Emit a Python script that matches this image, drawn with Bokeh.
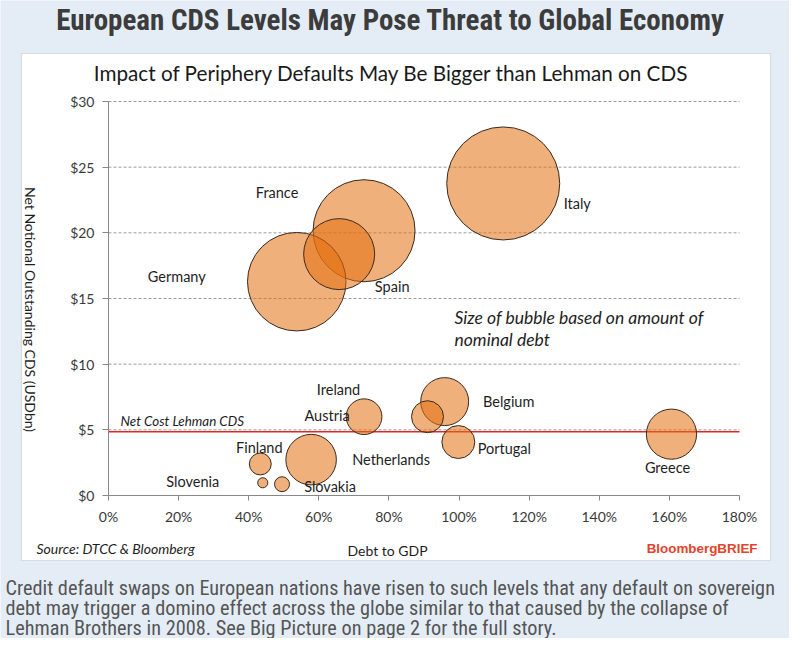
import math
import subprocess
from bokeh.plotting import figure
from bokeh.models import ColumnDataSource, Range1d, FixedTicker, Label, BoxAnnotation
from bokeh.core.properties import value
from bokeh.embed import file_html
from bokeh.resources import INLINE

# ---------------- data ----------------
countries = ["Italy", "France", "Germany", "Spain", "Netherlands", "Greece", "Belgium",
             "Austria", "Portugal", "Ireland", "Finland", "Slovakia", "Slovenia"]
debt_to_gdp = [112.6, 72.9, 53.7, 65.8, 57.8, 160.6, 95.9, 72.9, 99.8, 91.0, 43.3, 49.5, 44.0]
net_cds_bn = [23.76, 20.16, 16.28, 18.38, 2.73, 4.67, 7.15, 6.0, 4.07, 6.0, 2.40, 0.86, 0.97]
nominal_debt = [2000, 1630, 1520, 790, 400, 395, 360, 200, 170, 160, 75, 35, 16]
lehman_cds = 4.85

x_ticks = [0, 20, 40, 60, 80, 100, 120, 140, 160, 180]
x_tick_labels = ["0%", "20%", "40%", "60%", "80%", "100%", "120%", "140%", "160%", "180%"]
y_ticks = [0, 5, 10, 15, 20, 25, 30]
y_tick_labels = ["$0", "$5", "$10", "$15", "$20", "$25", "$30"]

title = "European CDS Levels May Pose Threat to Global Economy"
subtitle = "Impact of Periphery Defaults May Be Bigger than Lehman on CDS"
y_title = "Net Notional Outstanding CDS (USDbn)"
x_title = "Debt to GDP"
source_note = "Source: DTCC & Bloomberg"
brand = "BloombergBRIEF"
lehman_note = "Net Cost Lehman CDS"
size_note = ["Size of bubble based on amount of", "nominal debt"]
caption = ["Credit default swaps on European nations have risen to such levels that any default on sovereign",
           "debt may trigger a domino effect across the globe similar to that caused by the collapse of",
           "Lehman Brothers in 2008. See Big Picture on page 2 for the full story."]

# ---------------- fonts ----------------
def installed_families():
    fams = set()
    try:
        out = subprocess.run(["fc-list", ":", "family"], capture_output=True, text=True, timeout=20).stdout
        for line in out.splitlines():
            for f in line.split(","):
                fams.add(f.strip())
    except Exception:
        pass
    return fams

# (title px, caption px) per candidate condensed family
NARROW_CHOICES = [("Roboto Condensed", 29, 20.3), ("Liberation Sans Narrow", 29, 20.5),
                  ("Open Sans Condensed", 28, 19.5), ("Noto Sans Condensed", 27, 19.0),
                  ("DejaVu Sans Condensed", 23, 17.0)]
fams = installed_families()
NARROW, TITLE_PX, CAPTION_PX = "Roboto", 23.5, 17.0
for fam, tpx, cpx in NARROW_CHOICES:
    if fam in fams:
        NARROW, TITLE_PX, CAPTION_PX = fam, tpx, cpx
        break

# ---------------- layout / style ----------------
W, H = 789, 638
FIG_X0, FIG_Y0 = 8, 8            # page position of the figure
AX_L, AX_R = 116, 747            # page px of x = 0 and x = max tick
AX_B, AX_T = 503, 109            # page px of y = 0 and y = max tick
MAX_BUBBLE_PX = 113
FONT = "Lato"
BG = "#E4EDF6"

label_dx = {"Italy": 74, "France": -87, "Germany": -120, "Spain": 53, "Netherlands": 80,
            "Greece": -4, "Belgium": 64, "Austria": -37, "Portugal": 46, "Ireland": -89,
            "Finland": -1, "Slovakia": 48, "Slovenia": -70}
label_dy = {"Italy": 20, "France": -38, "Germany": -5, "Spain": 32, "Netherlands": 0,
            "Greece": 33, "Belgium": 0, "Austria": -1, "Portugal": 6, "Ireland": -27,
            "Finland": -16, "Slovakia": 2, "Slovenia": -1}

xmax, ymax = x_ticks[-1], y_ticks[-1]
ppx = (AX_R - AX_L) / xmax
ppy = (AX_B - AX_T) / ymax
x_range = Range1d((FIG_X0 - AX_L) / ppx, (FIG_X0 + W - AX_L) / ppx)
y_range = Range1d((AX_B - (FIG_Y0 + H)) / ppy, (AX_B - FIG_Y0) / ppy)

p = figure(width=W, height=H, output_backend="svg", toolbar_location=None,
           x_range=x_range, y_range=y_range, min_border=0)
p.border_fill_color = BG
p.background_fill_color = BG
p.outline_line_color = None
p.title.visible = False

def sx(px):
    return px - FIG_X0
def sy(py):
    return FIG_Y0 + H - py

# white chart panel
box = BoxAnnotation(left=sx(29), right=sx(778), top=sy(61), bottom=sy(568),
                    left_units="screen", right_units="screen", top_units="screen", bottom_units="screen",
                    fill_color="white", fill_alpha=1.0, line_color="#a0a0a0", line_width=1.2,
                    level="underlay")
p.add_layout(box)

# axes drawn at the data origin
for ax in (p.xaxis, p.yaxis):
    ax.fixed_location = 0
    ax.axis_line_color = "#888888"
    ax.major_tick_line_color = "#888888"
    ax.major_tick_in = 0
    ax.minor_tick_in = 0
    ax.minor_tick_out = 0
    ax.major_label_text_font = FONT
    ax.major_label_text_font_size = "14px"
    ax.major_label_text_color = "#3a3a3a"
p.xaxis.bounds = (0, xmax)
p.yaxis.bounds = (0, ymax)
p.xaxis.ticker = FixedTicker(ticks=x_ticks)
p.xaxis.major_label_overrides = dict(zip(x_ticks, x_tick_labels))
p.xaxis.major_tick_out = 5
p.xaxis.major_label_standoff = 7
p.yaxis.ticker = FixedTicker(ticks=y_ticks)
p.yaxis.major_label_overrides = dict(zip(y_ticks, y_tick_labels))
p.yaxis.major_tick_out = 6
p.yaxis.major_label_standoff = 8
p.xgrid.visible = False
p.ygrid.visible = False

# dashed gridlines across the plotting area
grid_y = y_ticks[1:]
p.segment(x0=[0] * len(grid_y), y0=grid_y, x1=[xmax] * len(grid_y), y1=grid_y,
          line_color="#9c9c9c", line_dash="3 2", line_width=1)

# Lehman reference line
p.segment(x0=[0], y0=[lehman_cds], x1=[xmax], y1=[lehman_cds], line_color="#E02828", line_width=1.5)

# bubbles
max_debt = max(nominal_debt)
src = ColumnDataSource(dict(
    x=debt_to_gdp, y=net_cds_bn, name=countries,
    size=[MAX_BUBBLE_PX * math.sqrt(d / max_debt) for d in nominal_debt],
    dx=[label_dx[c] for c in countries], dy=[label_dy[c] for c in countries],
))
p.scatter("x", "y", size="size", source=src, marker="circle",
          fill_color="#E3700F", fill_alpha=0.55, line_color="#3a2a1e", line_width=1)
p.text("x", "y", text="name", source=src, x_offset="dx", y_offset="dy",
       text_font=value(FONT), text_font_size="14.5px", text_color="#1e1e1e",
       text_align="center", text_baseline="middle")

def add_label(text, px, py, align="center", size="14px", font=FONT, style="normal",
              color="#1e1e1e", angle=0.0):
    p.add_layout(Label(x=sx(px), y=sy(py), x_units="screen", y_units="screen", text=text,
                       text_align=align, text_baseline="middle", text_font=font,
                       text_font_size=size, text_font_style=style, text_color=color,
                       angle=angle))

add_label(title, 398, 27, size=f"{TITLE_PX}px", font=NARROW, style="bold", color="#3c3c3c")
add_label(subtitle, 399, 80, size="20.7px", color="#1a1a1a")
add_label(y_title, 38, 317, size="14px", angle=-math.pi / 2)
add_label(x_title, 395, 558, size="14px")
add_label(source_note, 44, 556, align="left", size="14px", style="italic")
add_label(brand, 765, 556, align="right", size="13.4px", font="Liberation Sans", style="bold", color="#E5432C")
add_label(lehman_note, 128, 428, align="left", size="13.4px", style="italic")
add_label(size_note[0], 462, 325, align="left", size="17.5px", style="italic")
add_label(size_note[1], 462, 347, align="left", size="17.5px", style="italic")
for i, line in enumerate(caption):
    add_label(line, 13, 595 + 20 * i, align="left", size=f"{CAPTION_PX}px", font=NARROW, color="#555555")

open("out.html", "w").write(file_html(p, INLINE))
